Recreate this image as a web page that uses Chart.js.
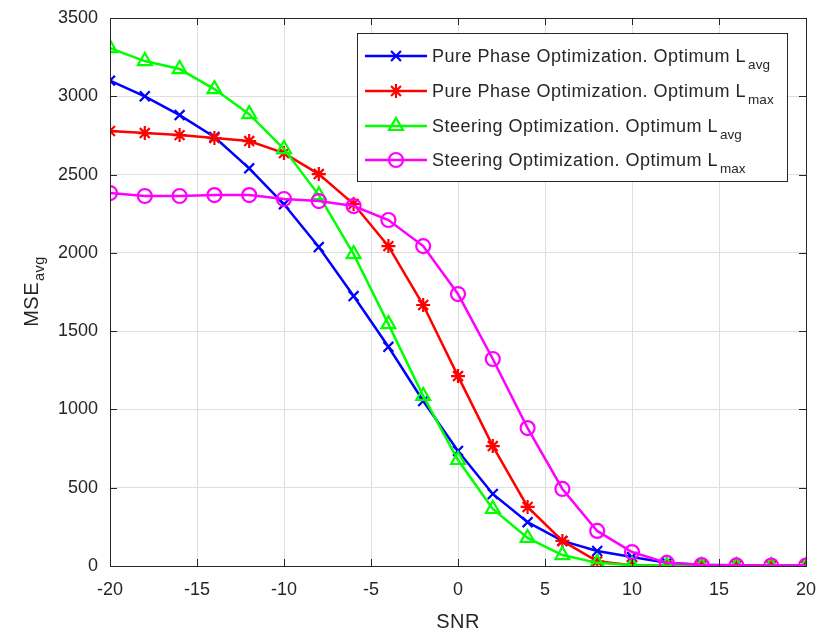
<!DOCTYPE html>
<html>
<head>
<meta charset="utf-8">
<script src="https://cdn.jsdelivr.net/npm/chart.js@4"></script>
<style>
  body { margin: 0; background: #fff; }
  #wrap { width: 817px; height: 636px; }
</style>
</head>
<body>
<div id="wrap"><canvas id="myChart" width="817" height="636"></canvas></div>
<script>
const snr = [-20, -18, -16, -14, -12, -10, -8, -6, -4, -2, 0, 2, 4, 6, 8, 10, 12, 14, 16, 18, 20]
const pureAvg = [3100, 3000, 2880, 2740, 2540, 2310, 2037, 1724, 1400, 1054, 735, 460, 280, 160, 96, 57, 20, 8, 5, 4, 3]
const pureMax = [2778, 2765, 2752, 2733, 2714, 2637, 2503, 2312, 2043, 1667, 1213, 766, 377, 160, 30, 5, 2, 1, 1, 1, 1]
const steerAvg = [3308, 3225, 3174, 3046, 2886, 2663, 2369, 1992, 1545, 1086, 677, 364, 179, 70, 20, 5, 2, 1, 1, 1, 1]
const steerMax = [2382, 2363, 2363, 2369, 2369, 2344, 2331, 2299, 2210, 2043, 1737, 1322, 881, 492, 224, 89, 20, 6, 4, 3, 3]
const xTicks = [-20, -15, -10, -5, 0, 5, 10, 15, 20]
const yTicks = [0, 500, 1000, 1500, 2000, 2500, 3000, 3500]

const legendNames = [
  ["Pure Phase Optimization. Optimum L", "avg"],
  ["Pure Phase Optimization. Optimum L", "max"],
  ["Steering Optimization. Optimum L", "avg"],
  ["Steering Optimization. Optimum L", "max"]
]

const font = "'Liberation Sans', Arial, sans-serif"

function makeSet(arr, color, style, order, radius){
  return {
    data: arr.map((v, i) => ({x: snr[i], y: v})),
    borderColor: color,
    backgroundColor: "rgba(0,0,0,0)",
    borderWidth: 2.5,
    pointStyle: style,
    pointRadius: radius,
    pointBorderColor: color,
    pointBackgroundColor: "rgba(0,0,0,0)",
    pointBorderWidth: 2.2,
    tension: 0,
    order: order
  }
}

const boxPlugin = {
  id: "box",
  afterDraw(chart){
    const c = chart.ctx
    const a = chart.chartArea
    const xs = chart.scales.x, ys = chart.scales.y
    c.save()
    // matlab style ticks on the inside, all four sides
    c.strokeStyle = "#262626"
    c.lineWidth = 1
    c.beginPath()
    xTicks.forEach(t => {
      const px = Math.round(xs.getPixelForValue(t)) + 0.5
      c.moveTo(px, a.bottom); c.lineTo(px, a.bottom - 7)
      c.moveTo(px, a.top); c.lineTo(px, a.top + 7)
    })
    yTicks.forEach(t => {
      const py = Math.round(ys.getPixelForValue(t)) + 0.5
      c.moveTo(a.left, py); c.lineTo(a.left + 7, py)
      c.moveTo(a.right, py); c.lineTo(a.right - 7, py)
    })
    c.stroke()
    c.strokeRect(Math.round(a.left) + 0.5, Math.round(a.top) + 0.5, Math.round(a.right - a.left), Math.round(a.bottom - a.top))

    // axis titles
    c.fillStyle = "#262626"
    c.letterSpacing = "0.5px"
    c.font = "20px " + font
    c.textAlign = "center"
    c.textBaseline = "alphabetic"
    c.fillText("SNR", (a.left + a.right) / 2, 628)
    c.save()
    c.translate(38, (a.top + a.bottom) / 2)
    c.rotate(-Math.PI / 2)
    c.font = "20px " + font
    const w1 = c.measureText("MSE").width
    c.font = "14.5px " + font
    const w2 = c.measureText("avg").width
    const start = -(w1 + w2) / 2
    c.textAlign = "left"
    c.font = "20px " + font
    c.fillText("MSE", start, 0)
    c.font = "14.5px " + font
    c.fillText("avg", start + w1 + 1, 6)
    c.restore()

    // legend
    const lx = 357, ly = 33, lw = 430, lh = 148
    c.fillStyle = "#fff"
    c.fillRect(lx, ly, lw, lh)
    c.strokeStyle = "#262626"
    c.lineWidth = 1
    c.strokeRect(lx + 0.5, ly + 0.5, lw, lh)
    const rows = [56, 91, 126, 160]
    chart.data.datasets.forEach((ds, i) => {
      const y = rows[i]
      c.strokeStyle = ds.borderColor
      c.lineWidth = 2.5
      c.beginPath(); c.moveTo(365, y); c.lineTo(427, y); c.stroke()
      c.fillStyle = "rgba(0,0,0,0)"
      c.lineWidth = 2.2
      Chart.helpers.drawPoint(c, {pointStyle: ds.pointStyle, radius: ds.pointRadius, borderWidth: 2.2}, 396, y)
      c.fillStyle = "#262626"
      c.letterSpacing = "0.5px"
      c.font = "18px " + font
      c.textAlign = "left"
      c.textBaseline = "alphabetic"
      c.fillText(legendNames[i][0], 432, y + 6)
      const tw = c.measureText(legendNames[i][0]).width
      c.letterSpacing = "0px"
      c.font = "13.5px " + font
      c.fillText(legendNames[i][1], 432 + tw + 2, y + 13)
    })
    c.restore()
  }
}

const ctx = document.getElementById("myChart")
const qraf = new Chart(ctx, {
  type: "line",
  data: {
    datasets: [
      makeSet(pureAvg, "#0000FF", "crossRot", 4, 7),
      makeSet(pureMax, "#FF0000", "star", 3, 7),
      makeSet(steerAvg, "#00FF00", "triangle", 2, 8),
      makeSet(steerMax, "#FF00FF", "circle", 1, 7)
    ]
  },
  options: {
    responsive: false,
    animation: false,
    layout: { padding: { left: 0, top: 18, right: 11, bottom: 0 } },
    plugins: { legend: { display: false }, tooltip: { enabled: false } },
    scales: {
      x: {
        type: "linear",
        min: -20, max: 20,
        afterBuildTicks: s => { s.ticks = xTicks.map(v => ({value: v})) },
        afterFit: s => { s.height = 70; s.paddingLeft = 0; s.paddingRight = 0 },
        grid: { color: "#dedede", lineWidth: 1, drawTicks: false },
        border: { display: false },
        ticks: { color: "#262626", padding: 13, font: { family: font, size: 18 }, maxRotation: 0, callback: v => String(v) }
      },
      y: {
        min: 0, max: 3500,
        afterBuildTicks: s => { s.ticks = yTicks.map(v => ({value: v})) },
        afterFit: s => { s.width = 110; s.paddingTop = 0; s.paddingBottom = 0 },
        grid: { color: "#dedede", lineWidth: 1, drawTicks: false },
        border: { display: false },
        ticks: { color: "#262626", padding: 12, font: { family: font, size: 18 }, callback: v => String(v) }
      }
    }
  },
  plugins: [boxPlugin]
})
</script>
</body>
</html>
